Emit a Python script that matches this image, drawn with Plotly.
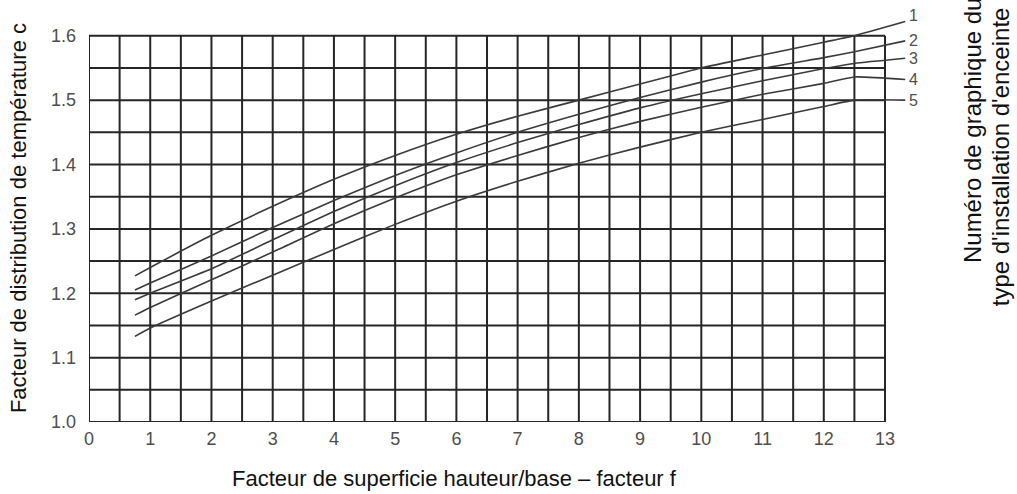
import plotly.graph_objects as go

# Abscissa of the tabulated points (facteur f); last point is the end of the leader line
f_values = [0.75, 1, 2, 3, 4, 5, 6, 7, 8, 9, 10, 11, 12, 12.5, 13.33]

# Temperature distribution factor c for each enclosure installation graph number
curve_1 = [1.227, 1.240, 1.290, 1.335, 1.377, 1.414, 1.447, 1.475, 1.500, 1.525, 1.550, 1.570, 1.590, 1.600, 1.622]
curve_2 = [1.205, 1.216, 1.258, 1.302, 1.344, 1.383, 1.418, 1.450, 1.478, 1.504, 1.528, 1.549, 1.566, 1.575, 1.592]
curve_3 = [1.190, 1.200, 1.238, 1.283, 1.327, 1.367, 1.403, 1.434, 1.462, 1.488, 1.510, 1.530, 1.549, 1.557, 1.565]
curve_4 = [1.166, 1.178, 1.221, 1.264, 1.308, 1.348, 1.384, 1.414, 1.442, 1.467, 1.489, 1.509, 1.526, 1.536, 1.532]
curve_5 = [1.133, 1.146, 1.188, 1.228, 1.268, 1.307, 1.343, 1.374, 1.402, 1.427, 1.450, 1.470, 1.490, 1.500, 1.500]

curve_names = ["1", "2", "3", "4", "5"]
curves = [curve_1, curve_2, curve_3, curve_4, curve_5]

x_ticks = list(range(0, 14))
x_tick_text = [str(v) for v in x_ticks]
y_ticks = [1.0, 1.1, 1.2, 1.3, 1.4, 1.5, 1.6]
y_tick_text = ["1.0", "1.1", "1.2", "1.3", "1.4", "1.5", "1.6"]

# Graph paper: vertical rules every 0.5, horizontal rules every 0.05
grid_x = [i * 0.5 for i in range(27)]
grid_y = [round(1.0 + i * 0.05, 2) for i in range(13)]

FONT = "Liberation Sans, Arial, sans-serif"
TICK_COLOR = "#4d4d4d"
GRID_COLOR = "#262626"
CURVE_COLOR = "#3a3a3a"

fig = go.Figure()

for name, values in zip(curve_names, curves):
    fig.add_trace(go.Scatter(
        x=f_values, y=values, mode="lines", name=name,
        line=dict(color=CURVE_COLOR, width=1.6, shape="spline", smoothing=0.5),
        showlegend=False, hoverinfo="skip",
    ))

shapes = []
for gx in grid_x:
    shapes.append(dict(type="line", xref="x", yref="y", x0=gx, x1=gx,
                       y0=grid_y[0], y1=grid_y[-1], layer="below",
                       line=dict(color=GRID_COLOR, width=2)))
for gy in grid_y:
    shapes.append(dict(type="line", xref="x", yref="y", x0=grid_x[0], x1=grid_x[-1],
                       y0=gy, y1=gy, layer="below",
                       line=dict(color=GRID_COLOR, width=2)))

annotations = []
# Curve numbers at the end of each leader line
for name, values in zip(curve_names, curves):
    annotations.append(dict(
        x=f_values[-1], y=values[-1], xref="x", yref="y", text=name,
        showarrow=False, xanchor="left", yanchor="middle", xshift=2,
        yshift=6 if name == "1" else 0,
        font=dict(family=FONT, size=16, color=TICK_COLOR),
    ))

# Axis titles
annotations.append(dict(
    x=-0.084, y=0.495, xref="paper", yref="paper",
    text="Facteur de distribution de température c", textangle=-90,
    showarrow=False, xanchor="center", yanchor="middle",
    font=dict(family=FONT, size=22, color="#111111"),
))
annotations.append(dict(
    x=0.433, y=-0.136, xref="paper", yref="paper",
    text="Facteur de superficie hauteur/base – facteur f",
    showarrow=False, xanchor="center", yanchor="middle",
    font=dict(family=FONT, size=22, color="#111111"),
))
annotations.append(dict(
    x=1.045, y=0.381, xref="paper", yref="paper",
    text="Numéro de graphique du", textangle=-90,
    showarrow=False, xanchor="center", yanchor="bottom",
    font=dict(family=FONT, size=24, color="#111111"),
))
annotations.append(dict(
    x=1.078, y=0.277, xref="paper", yref="paper",
    text="type d'installation d'enceinte", textangle=-90,
    showarrow=False, xanchor="center", yanchor="bottom",
    font=dict(family=FONT, size=24, color="#111111"),
))

fig.update_layout(
    width=1017, height=494,
    margin=dict(l=89, r=83, t=10, b=72),
    paper_bgcolor="white", plot_bgcolor="white",
    shapes=shapes, annotations=annotations,
    xaxis=dict(
        range=[0, 13.8], tickvals=x_ticks, ticktext=x_tick_text,
        showgrid=False, zeroline=False, showline=False, ticks="",
        ticklabelstandoff=4,
        tickfont=dict(family=FONT, size=18, color=TICK_COLOR),
    ),
    yaxis=dict(
        range=[1.0, 1.64], tickvals=y_ticks, ticktext=y_tick_text,
        showgrid=False, zeroline=False, showline=False, ticks="",
        ticklabelstandoff=12,
        tickfont=dict(family=FONT, size=18, color=TICK_COLOR),
    ),
)

fig.write_html("out.html")
